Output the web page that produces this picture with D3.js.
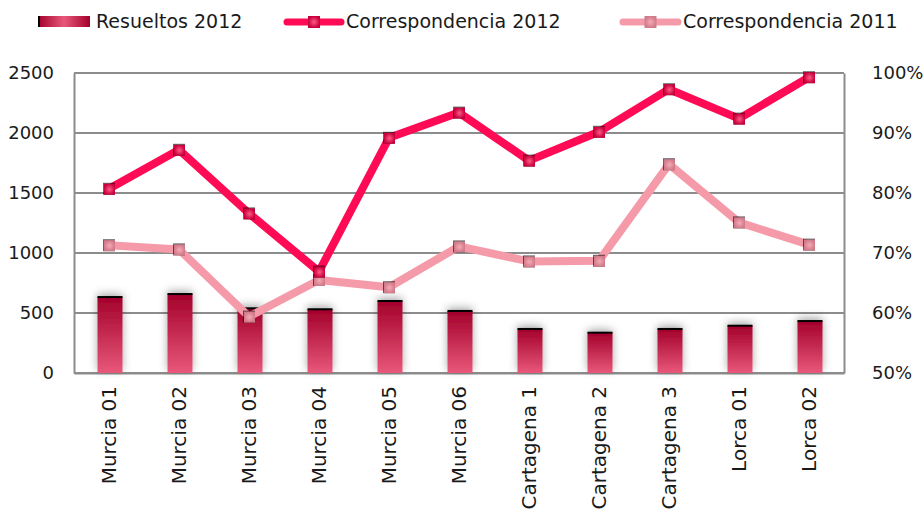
<!DOCTYPE html>
<html>
<head>
<meta charset="utf-8">
<script src="https://cdn.jsdelivr.net/npm/d3@7"></script>
<style>
  body { margin: 0; background: #fff; }
  svg { font-family: "DejaVu Sans", "Lato", sans-serif; }
</style>
</head>
<body>
<svg id="chart" width="923" height="519"></svg>
<script>
// data
var categories = ["Murcia 01", "Murcia 02", "Murcia 03", "Murcia 04", "Murcia 05", "Murcia 06",
                  "Cartagena 1", "Cartagena 2", "Cartagena 3", "Lorca 01", "Lorca 02"];
var resueltos2012 = [633, 658, 539, 531, 600, 517, 367, 336, 367, 394, 433];
var corresp2012 = [80.7, 87.2, 76.6, 66.9, 89.2, 93.4, 85.4, 90.2, 97.3, 92.4, 99.3];
var corresp2011 = [71.3, 70.6, 59.4, 65.5, 64.3, 71.1, 68.6, 68.7, 84.8, 75.1, 71.4];
var leftTicks = [0, 500, 1000, 1500, 2000, 2500];
var rightTicks = [50, 60, 70, 80, 90, 100];

var svg = d3.select("#chart"),
    margin = { top: 73, right: 79, bottom: 146, left: 74 },
    width = +svg.attr("width") - margin.left - margin.right,
    height = +svg.attr("height") - margin.top - margin.bottom,
    g = svg.append("g").attr("transform", "translate(" + margin.left + "," + margin.top + ")");

var c2012 = "#ff0a55", c2011 = "#f59aa8";

// gradients and shadow
var defs = svg.append("defs");
var bg = defs.append("linearGradient").attr("id", "barGrad").attr("x1", 0).attr("y1", 0).attr("x2", 0).attr("y2", 1);
bg.append("stop").attr("offset", "0%").attr("stop-color", "#a3002b");
bg.append("stop").attr("offset", "100%").attr("stop-color", "#e8587a");

var lg = defs.append("linearGradient").attr("id", "legGrad").attr("x1", 0).attr("y1", 0).attr("x2", 1).attr("y2", 0);
lg.append("stop").attr("offset", "0%").attr("stop-color", "#a3002b");
lg.append("stop").attr("offset", "50%").attr("stop-color", "#e8587a");
lg.append("stop").attr("offset", "100%").attr("stop-color", "#a3002b");

var m1 = defs.append("radialGradient").attr("id", "mk2012");
m1.append("stop").attr("offset", "0%").attr("stop-color", "#ff5a86");
m1.append("stop").attr("offset", "100%").attr("stop-color", "#c8003c");
var m2 = defs.append("radialGradient").attr("id", "mk2011");
m2.append("stop").attr("offset", "0%").attr("stop-color", "#f7a9b5");
m2.append("stop").attr("offset", "100%").attr("stop-color", "#d07a8a");

var sh = defs.append("filter").attr("id", "shadow")
    .attr("x", "-50%").attr("y", "-50%").attr("width", "200%").attr("height", "200%");
sh.append("feDropShadow").attr("dx", 0).attr("dy", -3).attr("stdDeviation", 4)
    .attr("flood-color", "#000").attr("flood-opacity", 0.35);

// scales
var x = d3.scaleBand().domain(categories).range([0, width]);
var y = d3.scaleLinear().domain([0, 2500]).range([height, 0]);
var y2 = d3.scaleLinear().domain([50, 100]).range([height, 0]);

// gridlines
g.append("g")
    .selectAll("line")
    .data(leftTicks)
    .enter().append("line")
    .attr("x1", 0).attr("x2", width)
    .attr("y1", d => y(d)).attr("y2", d => y(d))
    .attr("stroke", "#8c8c8c").attr("stroke-width", 2);

// axes
var yAxis = g.append("g").call(d3.axisLeft(y).tickValues(leftTicks).tickSize(0).tickPadding(20).tickFormat(d3.format("d")));
var yAxis2 = g.append("g").attr("transform", "translate(" + width + ",0)")
    .call(d3.axisRight(y2).tickValues(rightTicks).tickSize(0).tickPadding(28).tickFormat(d => d + "%"));
var xAxis = g.append("g").attr("transform", "translate(0," + height + ")")
    .call(d3.axisBottom(x).tickSize(0));

[yAxis, yAxis2, xAxis].forEach(function (a) {
    a.select(".domain").attr("stroke", "#8c8c8c").attr("stroke-width", 2);
    a.selectAll(".tick text").attr("fill", "#1a1a1a").attr("font-size", 18)
        .attr("font-family", "DejaVu Sans");
});
yAxis.selectAll(".tick text").attr("dy", "0.32em");
yAxis2.selectAll(".tick text").attr("dy", "0.32em");
xAxis.selectAll(".tick text")
    .attr("font-size", 20)
    .attr("transform", "rotate(-90)")
    .attr("text-anchor", "end")
    .attr("x", -13).attr("y", 0).attr("dy", "0.35em");

// bars
var bw = 25;
var bars = g.append("g").selectAll("g")
    .data(resueltos2012)
    .enter().append("g");
bars.append("rect")
    .attr("x", (d, i) => x(categories[i]) + x.bandwidth() / 2 - bw / 2 + 1)
    .attr("y", d => y(d))
    .attr("width", bw)
    .attr("height", d => height - y(d))
    .attr("fill", "url(#barGrad)")
    .attr("filter", "url(#shadow)");
bars.append("rect")
    .attr("x", (d, i) => x(categories[i]) + x.bandwidth() / 2 - bw / 2 + 1)
    .attr("y", d => y(d) - 1)
    .attr("width", bw)
    .attr("height", 2)
    .attr("fill", "#000");

// lines
var cx = (d, i) => x(categories[i]) + x.bandwidth() / 2;
function drawLine(data, color, grad) {
    var line = d3.line().x(cx).y(d => y2(d));
    g.append("path")
        .datum(data)
        .attr("fill", "none")
        .attr("stroke", color)
        .attr("stroke-width", 8)
        .attr("stroke-linejoin", "round")
        .attr("d", line);
    var mk = g.append("g").selectAll("g").data(data).enter().append("g")
        .attr("transform", (d, i) => "translate(" + cx(d, i) + "," + y2(d) + ")");
    mk.append("rect").attr("x", -6).attr("y", -6).attr("width", 12).attr("height", 12)
        .attr("fill", "#000").attr("opacity", 0.6);
    mk.append("rect").attr("x", -5).attr("y", -5).attr("width", 11).attr("height", 11)
        .attr("fill", "url(#" + grad + ")");
}
drawLine(corresp2011, c2011, "mk2011");
drawLine(corresp2012, c2012, "mk2012");

// legend
var leg = svg.append("g").attr("font-size", 19).attr("fill", "#1a1a1a");
leg.append("rect").attr("x", 38).attr("y", 16).attr("width", 52).attr("height", 11).attr("fill", "url(#legGrad)");
leg.append("rect").attr("x", 38).attr("y", 16).attr("width", 2).attr("height", 11).attr("fill", "#000");
leg.append("text").attr("x", 96).attr("y", 28).text("Resueltos 2012");

var legLines = [
    { x0: 287, x1: 341, color: c2012, grad: "mk2012", label: "Correspondencia 2012", tx: 346 },
    { x0: 623, x1: 678, color: c2011, grad: "mk2011", label: "Correspondencia 2011", tx: 683 }
];
legLines.forEach(function (l) {
    leg.append("line").attr("x1", l.x0).attr("x2", l.x1).attr("y1", 22).attr("y2", 22)
        .attr("stroke", l.color).attr("stroke-width", 7).attr("stroke-linecap", "round");
    var mx = (l.x0 + l.x1) / 2;
    leg.append("rect").attr("x", mx - 6).attr("y", 16).attr("width", 12).attr("height", 12)
        .attr("fill", "url(#" + l.grad + ")");
    leg.append("text").attr("x", l.tx).attr("y", 28).text(l.label);
});
</script>
</body>
</html>
